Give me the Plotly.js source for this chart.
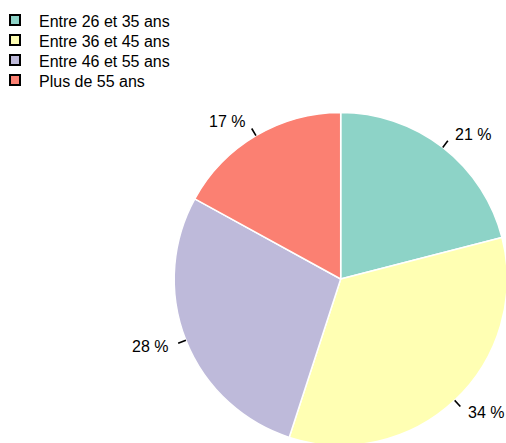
<!DOCTYPE html>
<html>
<head>
<meta charset="utf-8">
<script src="https://cdn.plot.ly/plotly-3.0.1.min.js"></script>
<style>html,body{margin:0;padding:0;background:#fff;overflow:hidden;}#chart{width:520px;height:460px;}</style>
</head>
<body>
<div id="chart"></div>
<script>
const categories = ['Entre 26 et 35 ans', 'Entre 36 et 45 ans', 'Entre 46 et 55 ans', 'Plus de 55 ans'];
const values = [21, 34, 28, 17];
const sliceLabels = ['21 %', '34 %', '28 %', '17 %'];
const colors = ['#8DD3C7', '#FFFFB3', '#BEBADA', '#FB8072'];

// plot is slightly larger than the 506x443 window, so the pie is clipped at the edges like the reference
const W = 520, H = 460;
const CX = 340.7, CY = 279, RD = 166.5;   // pie centre and radius, px
const domX = [(CX - RD) / W, (CX + RD) / W];
const domY = [1 - (CY + RD) / H, 1 - (CY - RD) / H];
const FONT = 'Liberation Sans, Arial, sans-serif';

const r = RD;
const total = values.reduce((a, b) => a + b, 0);

const annotations = [];
const shapes = [];
let cum = 0;
values.forEach((v, i) => {
  const f = (cum + v / 2) / total;
  cum += v;
  const a = (90 - 360 * f) * Math.PI / 180;
  const c = Math.cos(a), s = Math.sin(a);
  const px = R => (CX + R * c) / W;
  const py = R => 1 - (CY - R * s) / H;
  shapes.push({type: 'line', xref: 'paper', yref: 'paper',
    x0: px(r), y0: py(r), x1: px(1.05 * r), y1: py(1.05 * r),
    line: {color: '#000', width: 1.6}});
  annotations.push({xref: 'paper', yref: 'paper', x: px(1.1 * r), y: py(1.1 * r),
    text: sliceLabels[i], showarrow: false,
    xanchor: c > 0 ? 'left' : 'right', yanchor: 'middle',
    font: {family: FONT, size: 16, color: '#000'}});
});

const traces = [{
  type: 'pie',
  values: values,
  labels: categories,
  sort: false,
  direction: 'clockwise',
  rotation: 0,
  textinfo: 'none',
  hoverinfo: 'label+value',
  showlegend: false,
  domain: {x: domX, y: domY},
  marker: {colors: colors, line: {color: '#fff', width: 1.5}}
}];

// legend drawn as a small scatter on hidden axes: row i at y = -i
const rowPx = 20, firstRowPx = 20, textShiftPx = 3;
const rowIdx = categories.map((_, i) => -i);
traces.push({
  type: 'scatter', mode: 'markers', x: categories.map(() => 15), y: rowIdx,
  marker: {symbol: 'square', size: 10, color: colors, line: {color: '#000', width: 2}},
  showlegend: false, hoverinfo: 'skip', cliponaxis: false
});
traces.push({
  type: 'scatter', mode: 'text', x: categories.map(() => 39), y: rowIdx.map(v => v - textShiftPx / rowPx),
  text: categories, textposition: 'middle right',
  textfont: {family: FONT, size: 16, color: '#000'},
  showlegend: false, hoverinfo: 'skip', cliponaxis: false
});

const layout = {
  width: W, height: H,
  margin: {l: 0, r: 0, t: 0, b: 0},
  paper_bgcolor: '#fff', plot_bgcolor: 'rgba(0,0,0,0)',
  xaxis: {visible: false, range: [0, W], domain: [0, 1], fixedrange: true},
  yaxis: {visible: false, range: [firstRowPx / rowPx - H / rowPx, firstRowPx / rowPx], domain: [0, 1], fixedrange: true},
  showlegend: false,
  annotations: annotations,
  shapes: shapes
};

Plotly.newPlot('chart', traces, layout, {displayModeBar: false, staticPlot: true});
</script>
</body>
</html>
